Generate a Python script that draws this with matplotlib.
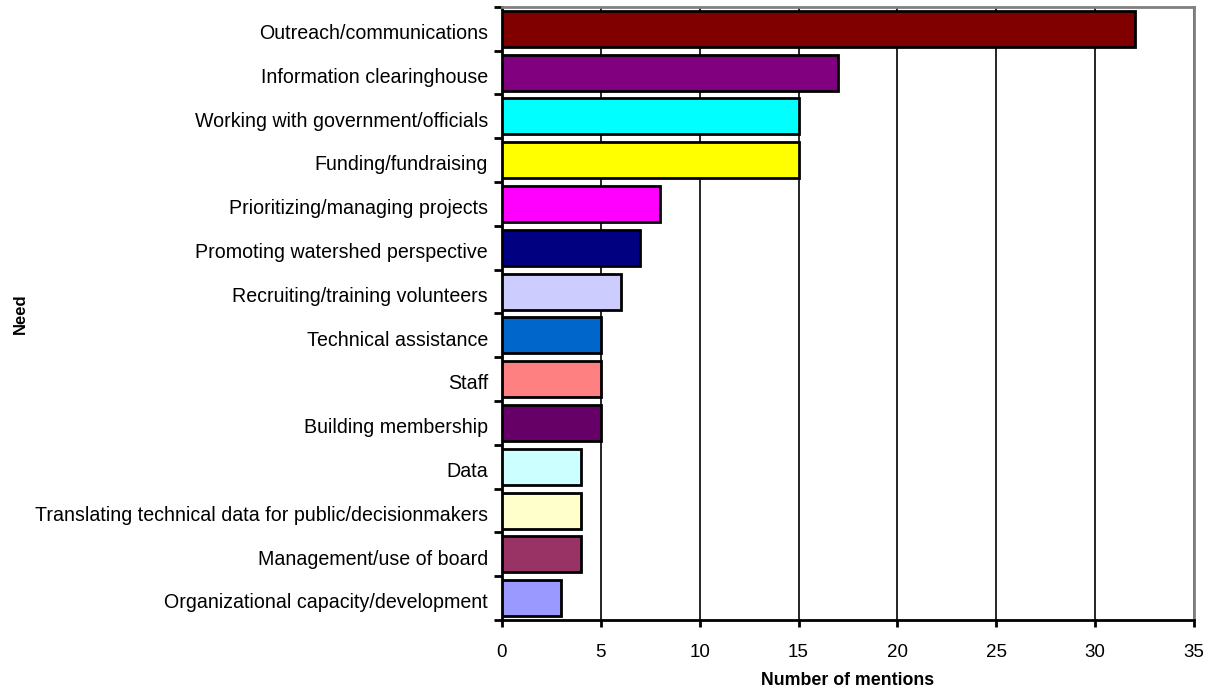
import numpy as np
import matplotlib.pyplot as plt
import matplotlib.transforms as mtransforms

plt.rcParams['font.family'] = ['Liberation Sans', 'DejaVu Sans']

needs = [
    "Outreach/communications",
    "Information clearinghouse",
    "Working with government/officials",
    "Funding/fundraising",
    "Prioritizing/managing projects",
    "Promoting watershed perspective",
    "Recruiting/training volunteers",
    "Technical assistance",
    "Staff",
    "Building membership",
    "Data",
    "Translating technical data for public/decisionmakers",
    "Management/use of board",
    "Organizational capacity/development",
]
mentions = [32, 17, 15, 15, 8, 7, 6, 5, 5, 5, 4, 4, 4, 3]
colors = [
    "#800000", "#800080", "#00FFFF", "#FFFF00", "#FF00FF", "#000080",
    "#CCCCFF", "#0066CC", "#FF8080", "#660066", "#CCFFFF", "#FFFFCC",
    "#993366", "#9999FF",
]
x_ticks = [0, 5, 10, 15, 20, 25, 30, 35]

fig = plt.figure(figsize=(12.11, 6.91), dpi=100)
ax = fig.add_axes([0.4145, 0.1027, 0.5714, 0.8873])

y = np.arange(len(needs))
ax.barh(y, mentions, height=0.82, color=colors, edgecolor="black",
        linewidth=2, zorder=3)

ax.set_xlim(0, 35)
ax.set_ylim(len(needs) - 0.5, -0.5)
ax.set_xticks(x_ticks)
ax.set_yticks(y)
ax.set_yticklabels(needs, fontsize=14.1)
ax.set_yticks(np.arange(len(needs) + 1) - 0.5, minor=True)
ax.tick_params(axis="y", which="major", length=0, pad=10)
ax.tick_params(axis="y", which="minor", length=6, width=2, direction="out")
ax.tick_params(axis="x", length=5, width=2, direction="out", pad=12,
               labelsize=13.5)

# nudge the category labels down a little, as in the original
shift = mtransforms.ScaledTranslation(0, -2 / 72, fig.dpi_scale_trans)
for lbl in ax.get_yticklabels():
    lbl.set_transform(lbl.get_transform() + shift)

ax.grid(axis="x", color="black", linewidth=1.2, zorder=0)
for s in ("top", "right"):
    ax.spines[s].set_color("#808080")
    ax.spines[s].set_linewidth(2)
for s in ("left", "bottom"):
    ax.spines[s].set_color("black")
    ax.spines[s].set_linewidth(2)

ax.set_xlabel("Number of mentions", fontsize=12.8, fontweight="bold",
              labelpad=8)
fig.text(0.0165, 0.5 * (0.1027 + 0.99), "Need", rotation=90, fontsize=12,
         fontweight="bold", ha="center", va="center")

fig.savefig("out.png", dpi=100)
